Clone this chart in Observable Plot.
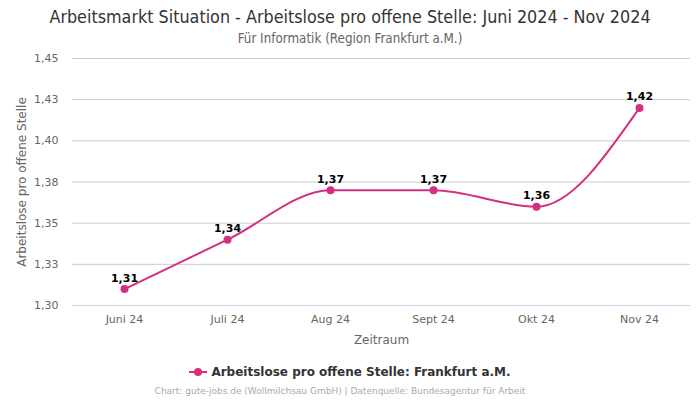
<!DOCTYPE html>
<html><head><meta charset="utf-8">
<script src="https://cdn.jsdelivr.net/npm/d3@7"></script>
<script src="https://cdn.jsdelivr.net/npm/@observablehq/plot@0.6"></script>
<style>
body{margin:0;background:#fff;font-family:"DejaVu Sans",sans-serif;}
#wrap{position:relative;width:700px;height:400px;}
#title{position:absolute;top:6px;left:0;width:700px;text-align:center;font-family:"DejaVu Sans Condensed","DejaVu Sans",sans-serif;font-size:17.8px;color:#333;}
#sub{position:absolute;top:31px;left:0;width:700px;text-align:center;font-family:"DejaVu Sans Condensed","DejaVu Sans",sans-serif;font-size:13.3px;color:#666;}
#chart{position:absolute;top:48px;left:0;}
#legend{position:absolute;top:365px;left:0;width:700px;text-align:center;font-size:12px;font-weight:bold;color:#333;}
#caption{position:absolute;top:386px;left:-10px;width:700px;text-align:center;font-size:9px;color:#aaa;}
</style></head>
<body><div id="wrap">
<div id="title">Arbeitsmarkt Situation - Arbeitslose pro offene Stelle: Juni 2024 - Nov 2024</div>
<div id="sub">Für Informatik (Region Frankfurt a.M.)</div>
<div id="chart"></div>
<div id="legend"><svg width="18" height="10" style="vertical-align:-1px;margin-right:4px"><line x1="0" y1="5" x2="18" y2="5" stroke="#d3307f" stroke-width="2"/><circle cx="9" cy="5" r="4" fill="#d3307f"/></svg>Arbeitslose pro offene Stelle: Frankfurt a.M.</div>
<div id="caption">Chart: gute-jobs.de (Wollmilchsau GmbH) | Datenquelle: Bundesagentur für Arbeit</div>
</div>
<script>
const months = ["Juni 24","Juli 24","Aug 24","Sept 24","Okt 24","Nov 24"];
const values = [1.31, 1.34, 1.37, 1.37, 1.36, 1.42];
const yTicks = [1.30, 1.325, 1.35, 1.375, 1.40, 1.425, 1.45];
const color = "#d3307f";
const data = months.map((m,i)=>({m, v: values[i]}));
const fmt = d => (d + 1e-9).toFixed(2).replace(".", ",");
const chart = Plot.plot({
  width: 700, height: 307,
  marginTop: 10, marginBottom: 50, marginLeft: 72, marginRight: 10,
  style: {fontFamily: "DejaVu Sans, sans-serif", fontSize: "11px", color: "#666", background: "#fff", overflow: "visible"},
  x: {type: "point", domain: months, padding: 0.5, label: null},
  y: {domain: [1.30, 1.45], label: null},
  marks: [
    Plot.ruleY(yTicks, {stroke: d => d === 1.30 ? "#ccd6eb" : "#ccc", strokeWidth: 1}),
    Plot.axisY({ticks: yTicks, tickFormat: fmt, tickSize: 0, tickPadding: 14, fill: "#666", fontSize: 11, label: null}),
    Plot.axisX({tickSize: 0, tickPadding: 10, fill: "#666", fontSize: 11, label: null}),
    Plot.text(["Zeitraum"], {frameAnchor: "bottom", lineAnchor: "middle", textAnchor: "middle", dy: 35, fill: "#666", fontSize: 12}),
    Plot.text(["Arbeitslose pro offene Stelle"], {frameAnchor: "left", textAnchor: "middle", lineAnchor: "middle", rotate: -90, dx: -50, fill: "#666", fontSize: 12}),
    Plot.line(data, {x: "m", y: "v", stroke: color, strokeWidth: 2, curve: "monotone-x"}),
    Plot.dot(data, {x: "m", y: "v", fill: color, r: 4}),
    Plot.text(data, {x: "m", y: "v", text: d => fmt(d.v), dy: -11, fill: "#000", fontWeight: "bold", fontSize: 11})
  ]
});
document.getElementById("chart").append(chart);
</script>
</body></html>
